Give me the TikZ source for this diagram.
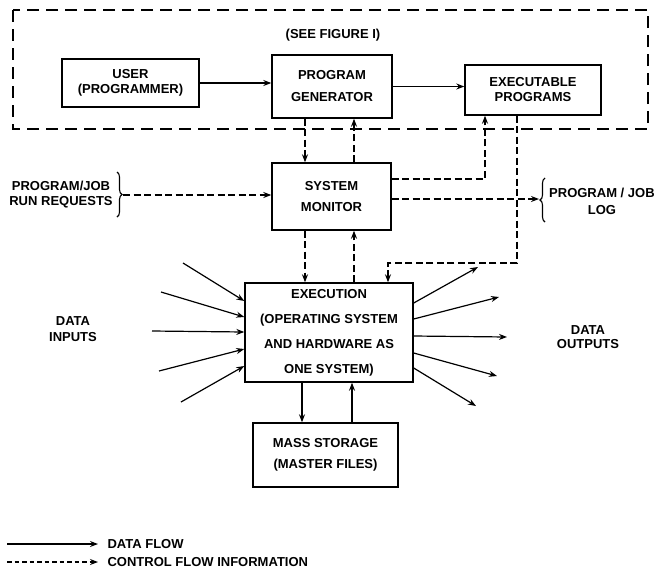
\documentclass[tikz,border=0pt]{standalone}
\usepackage{fontspec}
\setmainfont{Liberation Sans}
\usetikzlibrary{arrows.meta,decorations.pathreplacing}
\begin{document}
\begin{tikzpicture}[x=1pt,y=-1pt,
  blk/.style={draw,line width=1.4pt,inner sep=0pt},
  lbl/.style={font=\bfseries\fontsize{13}{#1}\selectfont,align=center},
  lbl/.default=15,
  data/.style={line width=1.2pt,-{Stealth[length=8pt,width=6pt]}},
  ctrl/.style={line width=1.2pt,dash pattern=on 7pt off 3.5pt,-{Stealth[length=8pt,width=6pt]}},
  frame/.style={line width=1.3pt,dash pattern=on 12pt off 7pt},
  brc/.style={line width=1.1pt,decorate,decoration={brace,amplitude=5pt}}]
\useasboundingbox (0,0) rectangle (655,579);

% program preparation subsystem (figure 1)
\draw[frame] (13,10) rectangle (648,129);
\node[lbl] (see) at (333,35) {(SEE FIGURE I)};

% blocks
\node[blk,lbl=15,minimum width=137pt,minimum height=48pt] (user) at (130.5,83) {USER\\(PROGRAMMER)};
\node[blk,lbl=22,minimum width=120pt,minimum height=63pt] (gen) at (332,86.5) {PROGRAM\\GENERATOR};
\node[blk,lbl=15,minimum width=136pt,minimum height=50pt] (prog) at (533,90) {EXECUTABLE\\PROGRAMS};
\node[blk,lbl=21,minimum width=119pt,minimum height=67pt] (mon) at (331.5,196.5) {SYSTEM\\MONITOR};
\node[blk,lbl=25,minimum width=168pt,minimum height=99pt] (exe) at (329,332.5) {EXECUTION\\(OPERATING SYSTEM\\AND HARDWARE AS\\ONE SYSTEM)};
\node[blk,lbl=21,minimum width=145pt,minimum height=64pt] (mass) at (325.5,455) {MASS STORAGE\\(MASTER FILES)};

% free labels
\node[lbl=15] (req) at (61,195) {PROGRAM/JOB\\RUN REQUESTS};
\node[lbl=17,anchor=west,inner sep=0pt] (log) at (549,201) {PROGRAM / JOB\\LOG};
\node[lbl=16] (din) at (73,329) {DATA\\INPUTS};
\node[lbl=14] (dout) at (588,337) {DATA\\OUTPUTS};

% data flow in the preparation chain
\draw[data] (user.east) -- (user.east -| gen.west);
\draw[data] (gen.east) -- (gen.east -| prog.west);

% control flow between generator, monitor and execution
\coordinate (xa) at (305,0);
\coordinate (xb) at (354,0);
\draw[ctrl] (gen.south -| xa) -- (mon.north -| xa);
\draw[ctrl] (mon.north -| xb) -- (gen.south -| xb);
\draw[ctrl] (mon.south -| xa) -- (exe.north -| xa);
\draw[ctrl] (exe.north -| xb) -- (mon.south -| xb);

% monitor to executable programs
\coordinate (ya) at (485,179);
\draw[ctrl] (mon.east |- ya) -- (ya) -- (prog.south -| ya);

% executable programs to execution
\coordinate (yb) at (517,263);
\coordinate (yc) at (388,263);
\draw[ctrl] (prog.south -| yb) -- (yb) -- (yc) -- (exe.north -| yc);

% run requests and job log
\coordinate (rqa) at (117,172);
\coordinate (rqb) at (117,217);
\draw[brc] (rqa) -- (rqb);
\coordinate (rqt) at (123,195);
\draw[ctrl] (rqt) -- (mon.west |- rqt);
\coordinate (lga) at (545,222);
\coordinate (lgb) at (545,178);
\draw[brc] (lga) -- (lgb);
\coordinate (lgt) at (539,199);
\draw[ctrl] (mon.east |- lgt) -- (lgt);

% mass storage
\coordinate (xf) at (302,0);
\coordinate (xg) at (352,0);
\draw[data] (exe.south -| xf) -- (mass.north -| xf);
\draw[data] (mass.north -| xg) -- (exe.south -| xg);

% data inputs and outputs
\foreach \n/\sx/\sy/\ey in {1/183/263/301,2/161/292/317,3/152/331/332,4/159/371/349,5/181/402/366}{
  \coordinate (in\n) at (\sx,\sy);
  \draw[data] (in\n) -- (exe.west |- 0,\ey);
}
\foreach \n/\sy/\ex/\ey in {1/303/478/267,2/319/499/297,3/336/507/337,4/353/497/376,5/368/476/406}{
  \coordinate (out\n) at (\ex,\ey);
  \draw[data] (exe.east |- 0,\sy) -- (out\n);
}

% key
\coordinate (ka) at (7,544);
\coordinate (kb) at (98,544);
\draw[data] (ka) -- (kb);
\node[lbl,anchor=west] (kd) at (104,544) {DATA FLOW};
\coordinate (kc) at (7,562);
\coordinate (ke) at (98,562);
\draw[ctrl,dash pattern=on 4.5pt off 3pt] (kc) -- (ke);
\node[lbl,anchor=west] (kf) at (104,562) {CONTROL FLOW INFORMATION};
\end{tikzpicture}
\end{document}
